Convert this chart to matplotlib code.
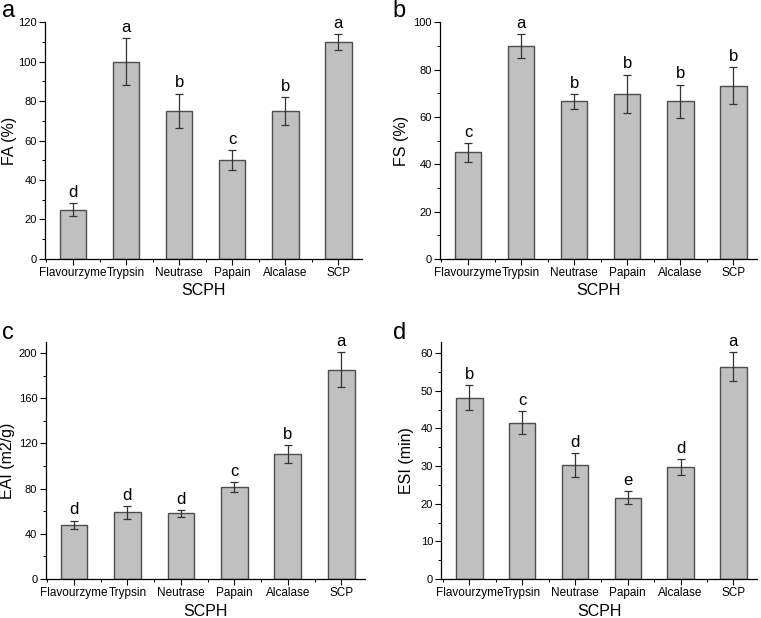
import matplotlib
matplotlib.use("Agg")
import matplotlib.pyplot as plt
from matplotlib.ticker import MultipleLocator, FixedLocator

plt.rcParams['font.family'] = ['Liberation Sans', 'DejaVu Sans']

categories = ["Flavourzyme", "Trypsin", "Neutrase", "Papain", "Alcalase", "SCP"]

fa_values = [25, 100, 75, 50, 75, 110]
fa_errors = [3.2, 12, 8.8, 5, 7, 4.1]
fa_letters = ["d", "a", "b", "c", "b", "a"]

fs_values = [45, 90, 66.6, 69.8, 66.6, 73.2]
fs_errors = [4, 5, 3.1, 8.1, 7, 7.9]
fs_letters = ["c", "a", "b", "b", "b", "b"]

eai_values = [48.1, 59, 58.1, 81.1, 110.3, 185.3]
eai_errors = [3.6, 5.7, 2.9, 4.4, 8, 15.6]
eai_letters = ["d", "d", "d", "c", "b", "a"]

esi_values = [48.2, 41.5, 30.3, 21.6, 29.7, 56.4]
esi_errors = [3.3, 3.1, 3.1, 1.8, 2.1, 3.8]
esi_letters = ["b", "c", "d", "e", "d", "a"]

panels = [
    ("a", fa_values, fa_errors, fa_letters, "FA (%)", 120, 20,
     [0.059, 0.581, 0.417, 0.383], -0.088, (0.003, 1 - 17 / 618)),
    ("b", fs_values, fs_errors, fs_letters, "FS (%)", 100, 20,
     [0.578, 0.581, 0.417, 0.383], -0.098, (0.516, 1 - 17 / 618)),
    ("c", eai_values, eai_errors, eai_letters, "EAI (m2/g)", 210, 40,
     [0.060, 0.063, 0.420, 0.384], -0.097, (0.003, 1 - 339 / 618)),
    ("d", esi_values, esi_errors, esi_letters, "ESI (min)", 63, 10,
     [0.580, 0.063, 0.415, 0.384], -0.087, (0.516, 1 - 339 / 618)),
]

fig = plt.figure(figsize=(7.61, 6.18), dpi=100)

for name, vals, errs, letters, ylabel, ymax, major, rect, ylab_x, lab_xy in panels:
    ax = fig.add_axes(rect)
    x = list(range(len(categories)))
    ax.bar(x, vals, width=0.5, color="#c0c0c0", edgecolor="#4d4d4d", linewidth=1.0, zorder=2)
    ax.errorbar(x, vals, yerr=errs, fmt="none", ecolor="#333333", elinewidth=0.9,
                capsize=2.7, capthick=0.9, zorder=3)
    for xi, v, e, l in zip(x, vals, errs, letters):
        ax.annotate(l, (xi, v + e), xytext=(0, 4.5), textcoords="offset points",
                    ha="center", va="baseline", fontsize=12)
    ax.set_xlim(-0.53, 5.45)
    ax.set_ylim(0, ymax)
    ax.set_xticks(x)
    ax.set_xticklabels(categories, fontsize=8.5)
    ax.xaxis.set_minor_locator(FixedLocator([i + 0.5 for i in range(-1, 6)]))
    ax.yaxis.set_major_locator(MultipleLocator(major))
    ax.yaxis.set_minor_locator(MultipleLocator(major / 2))
    ax.tick_params(axis="y", labelsize=8, direction="out", length=4, width=0.8, pad=2)
    ax.tick_params(axis="x", direction="out", length=4, width=0.8, pad=2)
    ax.tick_params(which="minor", direction="out", length=2.5, width=0.7)
    for s in ("top", "right"):
        ax.spines[s].set_visible(False)
    for s in ("left", "bottom"):
        ax.spines[s].set_linewidth(0.9)
    ax.set_ylabel(ylabel, fontsize=11.5)
    ax.yaxis.set_label_coords(ylab_x, 0.5)
    ax.set_xlabel("SCPH", fontsize=11.5, labelpad=3)
    fig.text(lab_xy[0], lab_xy[1], name, fontsize=17, ha="left", va="baseline")

fig.savefig("out.png", dpi=100)
